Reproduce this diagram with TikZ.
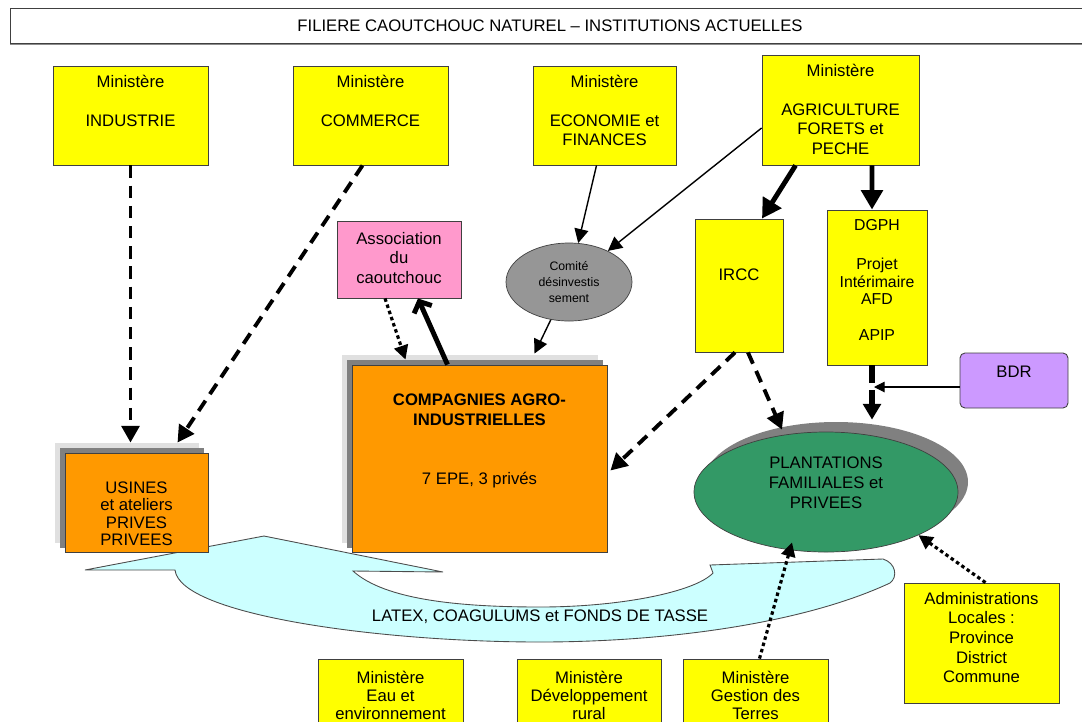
\documentclass[tikz,border=0pt]{standalone}
\usepackage{fontspec}
\setmainfont{Liberation Sans}
\usetikzlibrary{arrows.meta, shapes.geometric, shadows, calc}
\newlength{\dpx}
\setlength{\dpx}{0.02cm}
\definecolor{instyellow}{HTML}{FFFF00}
\definecolor{instpink}{HTML}{FF99CC}
\definecolor{instgrey}{HTML}{969696}
\definecolor{instorange}{HTML}{FF9900}
\definecolor{instgreen}{HTML}{339966}
\definecolor{instpurple}{HTML}{CC99FF}
\definecolor{instcyan}{HTML}{CCFFFF}
\tikzset{filiere-box/.style={draw=black!75, line width=0.5pt, fill=instyellow, inner sep=0}}
\tikzset{filiere-text/.style={anchor=north, inner sep=0, align=center}}
\tikzset{filiere-shadow/.style={general shadow={fill=black!12, draw=black!12, shadow xshift=-10\dpx, shadow yshift=10\dpx}, general shadow={fill=black!50, draw=black!50, shadow xshift=-5\dpx, shadow yshift=5\dpx}}}
\tikzset{filiere-dash/.style={line width=2.2pt, dash pattern=on 7pt off 4.5pt, -{Triangle[length=9.5pt,width=10pt]}}}
\tikzset{filiere-bolddash/.style={line width=3pt, dash pattern=on 10pt off 4pt, -{Triangle[length=9pt,width=10pt]}}}
\tikzset{filiere-dot/.style={line width=1.8pt, dash pattern=on 2pt off 1.7pt, -{Triangle[length=8pt,width=8pt]}}}
\tikzset{filiere-thin/.style={line width=0.8pt, -{Triangle[length=8pt,width=8pt]}}}
\tikzset{filiere-small/.style={line width=0.6pt, -{Triangle[length=6pt,width=6pt]}}}
\tikzset{filiere-thick/.style={line width=2.8pt, -{Triangle[length=11pt,width=12pt]}}}
\tikzset{filiere-barb/.style={line width=2.8pt, -{Straight Barb[length=5pt,width=11pt]}}}

\begin{document}
\begin{tikzpicture}[x=0.02cm, y=-0.02cm, font=\fontsize{9.5}{11.2}\selectfont]
    \useasboundingbox (0,0) rectangle (1082,721);

    % fleche latex
    \draw[draw=black!70, line width=0.5pt, fill=instcyan] (85,570) -- (264,536) -- (443,572) -- (353,571)
        .. controls (385,600) and (460,607) .. (540,607)
        .. controls (620,607) and (695,592) .. (713,573)
        -- (710,565) -- (883,559)
        .. controls (896,563) and (898,577) .. (890,583)
        .. controls (800,625) and (660,642) .. (540,642)
        .. controls (380,642) and (180,615) .. (175,570) -- cycle;
    \node (flux) at (540,617) {LATEX, COAGULUMS et FONDS DE TASSE};

    \node[draw=black!75, fill=white, general shadow={fill=black!45, shadow xshift=0pt, shadow yshift=-2\dpx}, minimum width=1080\dpx, minimum height=35\dpx] (titre) at (550,25.5) {FILIERE CAOUTCHOUC NATUREL – INSTITUTIONS ACTUELLES};

    \node[filiere-box, minimum width=155\dpx, minimum height=99\dpx, label={[filiere-text, yshift=-9\dpx]north:{Ministère\\[11pt]INDUSTRIE}}] (industrie) at (130.5,115.5) {};
    \node[filiere-box, minimum width=155\dpx, minimum height=99\dpx, label={[filiere-text, yshift=-9\dpx]north:{Ministère\\[11pt]COMMERCE}}] (commerce) at (370.5,115.5) {};
    \node[filiere-box, minimum width=143\dpx, minimum height=99\dpx, label={[filiere-text, yshift=-9\dpx]north:{Ministère\\[11pt]ECONOMIE et\\FINANCES}}] (economie) at (604.5,115.5) {};
    \node[filiere-box, minimum width=157\dpx, minimum height=110\dpx, label={[filiere-text, yshift=-9\dpx]north:{Ministère\\[11pt]AGRICULTURE\\FORETS et\\PECHE}}] (agriculture) at (840.5,110) {};

    \node[filiere-box, fill=instpink, minimum width=124\dpx, minimum height=77\dpx, label={[filiere-text, yshift=-11\dpx]north:{Association\\du\\caoutchouc}}] (association) at (399,259.5) {};
    \node[draw=black!75, fill=instgrey, ellipse, inner sep=0, minimum width=126\dpx, minimum height=78\dpx, align=center, font=\fontsize{7}{9.3}\selectfont] (comite) at (569,282) {Comité\\désinvestis\\sement};
    \node[filiere-box, minimum width=88\dpx, minimum height=133\dpx, label={[filiere-text, yshift=-50\dpx]north:{IRCC}}] (ircc) at (739,285.5) {};
    \node[filiere-box, minimum width=100\dpx, minimum height=155\dpx, label={[filiere-text, yshift=-10\dpx, font=\fontsize{9}{9.9}\selectfont]north:{DGPH\\[12.2pt]Projet\\Intérimaire\\AFD\\[10.5pt]APIP}}] (dgph) at (877,287.5) {};
    \node[filiere-box, fill=instpurple, rounded corners=5\dpx, minimum width=108\dpx, minimum height=55\dpx, label={[filiere-text, yshift=-13\dpx]north:{BDR}}] (bdr) at (1014,380.5) {};

    \node[filiere-box, fill=instorange, filiere-shadow, minimum width=255\dpx, minimum height=187\dpx, label={[filiere-text, yshift=-29\dpx]north:{\textbf{COMPAGNIES AGRO-}\\\textbf{INDUSTRIELLES}\\[22.7pt]7 EPE, 3 privés}}] (compagnies) at (479.5,458.5) {};
    \node[filiere-box, fill=instorange, filiere-shadow, minimum width=143\dpx, minimum height=99\dpx, label={[filiere-text, yshift=-29\dpx, font=\fontsize{9.5}{9.8}\selectfont]north:{USINES\\et ateliers\\PRIVES\\PRIVEES}}] (usines) at (136.5,502.5) {};
    \node[draw=black!75, fill=instgreen, ellipse, inner sep=0, general shadow={fill=black!50, shadow xshift=10\dpx, shadow yshift=10\dpx}, minimum width=264\dpx, minimum height=120\dpx, label={[filiere-text, yshift=-25\dpx]north:{PLANTATIONS\\FAMILIALES et\\PRIVEES}}] (plantations) at (826,492) {};

    \node[filiere-box, minimum width=155\dpx, minimum height=120\dpx, label={[filiere-text, yshift=-9\dpx]north:{Administrations\\Locales :\\Province\\District\\Commune}}] (admin) at (981.5,643) {};
    \node[filiere-box, minimum width=145\dpx, minimum height=82\dpx, label={[filiere-text, yshift=-12\dpx, font=\fontsize{9.5}{10.2}\selectfont]north:{Ministère\\Eau et\\environnement}}] (eau) at (390.5,700) {};
    \node[filiere-box, minimum width=144\dpx, minimum height=82\dpx, label={[filiere-text, yshift=-12\dpx, font=\fontsize{9.5}{10.2}\selectfont]north:{Ministère\\Développement\\rural}}] (rural) at (589,700) {};
    \node[filiere-box, minimum width=145\dpx, minimum height=82\dpx, label={[filiere-text, yshift=-12\dpx, font=\fontsize{9.5}{10.2}\selectfont]north:{Ministère\\Gestion des\\Terres}}] (terres) at (755.5,700) {};

    \draw[filiere-dash, shorten >=5.67pt] (industrie.south) -- (industrie.south |- usines.north);
    \draw[filiere-dash] ([xshift=-8\dpx]commerce.south) -- ([xshift=41\dpx, yshift=10\dpx]usines.north);
    \draw[filiere-thin] ([xshift=-8\dpx]economie.south) -- (comite);
    \draw[filiere-thin] ([yshift=-18\dpx]agriculture.west) -- (comite);
    \draw[filiere-thick] ([xshift=-45\dpx]agriculture.south) -- ([xshift=23\dpx]ircc.north);
    \draw[filiere-thick] ([xshift=31.5\dpx]agriculture.south) -- ([xshift=-5\dpx]dgph.north);
    \draw[filiere-thin] (comite) -- ([xshift=55\dpx, yshift=11\dpx]compagnies.north);
    \draw[filiere-dot] ([xshift=-14\dpx]association.south) -- ([xshift=-74\dpx, yshift=5\dpx]compagnies.north);
    \draw[filiere-barb] ([xshift=-32\dpx]compagnies.north) -- ([xshift=19\dpx]association.south);
    \draw[filiere-dash] ([xshift=-4\dpx]ircc.south) -- ([xshift=3\dpx, yshift=-12\dpx]compagnies.east);
    \draw[filiere-dash] ([xshift=9\dpx]ircc.south) -- ([xshift=-44\dpx, yshift=2\dpx]plantations.north);
    \draw[filiere-bolddash] ([xshift=-5\dpx]dgph.south) -- ($(dgph.south |- plantations.north)+(-5,-12)$);
    \coordinate (bdrjoin) at ($(dgph.south |- bdr.west)+(-3,6.5)$);
    \draw[filiere-small] ([yshift=-6.5\dpx]bdr.west) -- (bdrjoin);
    \draw[filiere-dot] ([xshift=4\dpx]admin.north) -- (plantations.-25);
    \draw[filiere-dot] ([xshift=4\dpx]terres.north) -- ([xshift=-34\dpx, yshift=10\dpx]plantations.south);
\end{tikzpicture}
\end{document}
